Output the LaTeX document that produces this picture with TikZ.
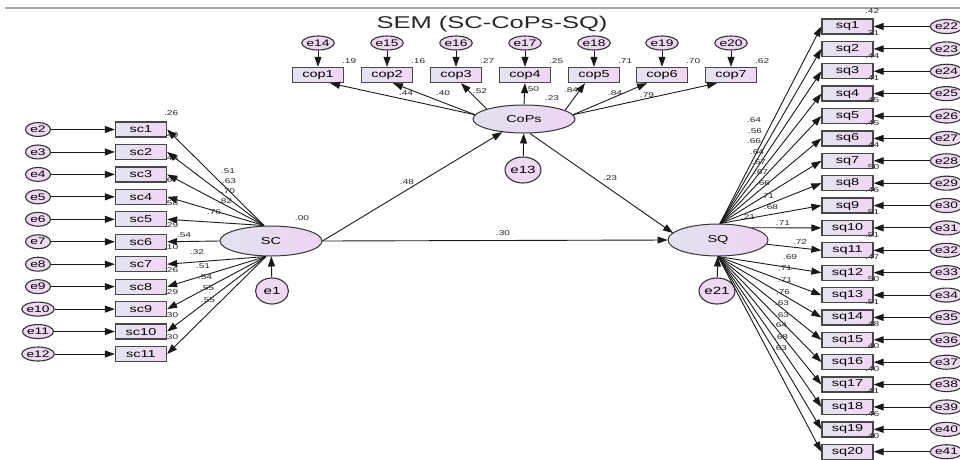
\documentclass[tikz,border=0pt]{standalone}
\usepackage{fontspec}
\setmainfont{Liberation Sans}
\usepackage{graphicx}
\usetikzlibrary{shapes.geometric,arrows.meta,calc}
\definecolor{boxL}{RGB}{228,228,240}
\definecolor{boxR}{RGB}{240,214,244}
\definecolor{errC}{RGB}{238,216,242}
\definecolor{latL}{RGB}{226,226,238}
\definecolor{latR}{RGB}{238,212,244}
\newcommand{\hs}[1]{\scalebox{1.45}[1]{#1}}
\begin{document}
\begin{tikzpicture}[x=1pt,y=-1pt,
 obs/.style={rectangle,draw=black!72,line width=1.3pt,minimum width=51pt,minimum height=15pt,inner sep=0pt,left color=boxL,right color=boxR,font=\fontsize{10}{10}\selectfont},
 lat/.style={ellipse,draw=black!80,line width=1pt,inner sep=0pt,left color=latL,right color=latR,font=\fontsize{10}{10}\selectfont},
 err/.style={ellipse,draw=black!80,line width=1.1pt,minimum width=25pt,minimum height=14pt,inner sep=0pt,fill=errC,font=\fontsize{9.5}{9.5}\selectfont},
 errbig/.style={err,minimum width=33pt,minimum height=26pt,font=\fontsize{10.5}{10.5}\selectfont},
 arr/.style={-{Triangle[length=10pt,width=7pt]},line width=0.9pt,black!90},
 lab/.style={font=\fontsize{7}{7}\selectfont,inner sep=0pt,text=black!85}]
\useasboundingbox (0,0) rectangle (960,459);
\draw[black!35,line width=1.2pt] (5,8) -- (960,8);
\node[font=\fontsize{17}{17}\selectfont,inner sep=0pt,text=black!85] (title) at (492,24) {\scalebox{1.5}[1]{SEM (SC-CoPs-SQ)}};
% latent variables
\node[lat,minimum width=102pt,minimum height=30pt] (SC) at (271,241) {\hs{SC}};
\node[lat,minimum width=102pt,minimum height=28pt] (CoPs) at (524,119) {\hs{CoPs}};
\node[lat,minimum width=100pt,minimum height=32pt] (SQ) at (718,240) {\hs{SQ}};
\node[errbig] (e1) at (272,291) {\hs{e1}};
\node[errbig] (e13) at (523,170) {\hs{e13}};
\node[errbig] (e21) at (717,291) {\hs{e21}};
\draw[arr] (e1) -- (SC);
\draw[arr] (e13) -- (CoPs);
\draw[arr] (e21) -- (SQ);
\node[lab] (rSC) at (302,218) {\hs{.00}};
\node[lab] (rCoPs) at (552,98) {\hs{.23}};
\node[lab] (rSQ) at (748,217) {\hs{.21}};
% structural paths
\draw[arr] (SC.east) -- (CoPs);
\draw[arr] (SC.east) -- (SQ.west);
\draw[arr] ([xshift=6pt]CoPs.south) -- ([shift={(-45,-7)}]SQ.center);
\node[lab] (p1) at (407,182) {\hs{.48}};
\node[lab] (p2) at (503,233) {\hs{.30}};
\node[lab] (p3) at (610,178) {\hs{.23}};
% SC indicators
\foreach \i/\r in {1/.26,2/.40,3/.48,4/.67,5/.58,6/.29,7/.10,8/.26,9/.29,10/.30,11/.30}{
  \pgfmathsetmacro\yy{129.5+22.45*(\i-1)}
  \pgfmathtruncatemacro\ee{\i+1}
  \node[obs] (sc\i) at (141,\yy) {\hs{sc\i}};
  \node[err] (e\ee) at (38,\yy) {\hs{e\ee}};
  \draw[arr] (e\ee) -- (sc\i);
  \node[lab] (rsc\i) at ($(sc\i.north east)+(4,-8.5)$) {\hs{\r}};
}
\foreach \i in {1,...,5} \draw[arr] ([xshift=-7pt]SC.north) -- (sc\i.east);
\draw[arr] (SC.west) -- (sc6.east);
\foreach \i in {7,...,11} \draw[arr] ([xshift=-5pt]SC.south) -- (sc\i.east);
\foreach \x/\y/\t [count=\k] in {228/171/.51,229/181/.63,228/191/.70,225/201/.82,214/212/.76,184/235/.54,197/252/.32,203/266/.51,205/277/.54,207/288/.55,208/300/.55}
  \node[lab] (lsc\k) at (\x,\y) {\hs{\t}};
% CoPs indicators
\foreach \i/\x/\r in {1/318/.19,2/387/.16,3/456/.27,4/525/.25,5/594/.71,6/662/.70,7/731/.62}{
  \pgfmathtruncatemacro\ee{\i+13}
  \node[obs] (cop\i) at (\x,75) {\hs{cop\i}};
  \node[err] (e\ee) at (\x,43) {\hs{e\ee}};
  \draw[arr] (e\ee) -- (cop\i);
  \node[lab] (rcop\i) at ($(cop\i.north east)+(5,-5.5)$) {\hs{\r}};
}
\draw[arr] (CoPs.175) -- ([xshift=12pt]cop1.south);
\draw[arr] (CoPs.175) -- ([xshift=6pt]cop2.south);
\draw[arr] (CoPs.165) -- ([xshift=5pt]cop3.south);
\draw[arr] (CoPs.north) -- (cop4.south);
\draw[arr] (CoPs.12) -- ([xshift=-9pt]cop5.south);
\draw[arr] (CoPs.5) -- ([xshift=-15pt]cop6.south);
\draw[arr] (CoPs.5) -- ([xshift=-14pt]cop7.south);
\foreach \x/\y/\t [count=\k] in {406/93/.44,443/93/.40,480/91/.52,532/89/.50,571/90/.84,615/93/.84,647/95/.79}
  \node[lab] (lcop\k) at (\x,\y) {\hs{\t}};
% SQ indicators
\foreach \i/\r in {1/.42,2/.31,3/.44,4/.41,5/.45,6/.45,7/.44,8/.50,9/.46,10/.51,11/.51,12/.47,13/.50,14/.51,15/.48,16/.40,17/.40,18/.41,19/.46,20/.40}{
  \pgfmathsetmacro\yy{26.5+22.38*(\i-1)}
  \pgfmathtruncatemacro\ee{\i+21}
  \node[obs] (sq\i) at (847.5,\yy) {\hs{sq\i}};
  \node[err,minimum width=26pt] (e\ee) at (946.5,\yy) {\hs{e\ee}};
  \draw[arr] (e\ee) -- (sq\i);
  \node[lab] (rsq\i) at ($(sq\i.north east)+(-1.5,-7.5)$) {\hs{\r}};
}
\foreach \i in {1,...,9} \draw[arr] ([xshift=2pt]SQ.north) -- (sq\i.west);
\draw[arr] (SQ.20) -- (sq10.west);
\draw[arr] (SQ.-5) -- (sq11.west);
\foreach \i in {12,...,20} \draw[arr] (SQ.south) -- (sq\i.west);
\foreach \x/\y/\t [count=\k] in {754/120/.64,755/131/.56,754/141/.66,757/152/.64,759/162/.67,761/172/.67,763/183/.66,767/196/.71,771/207/.68,783/223/.71,800/242/.72,790/257/.69,785/268/.71,785/280/.71,783/292/.76,782/303/.63,782/315/.63,780/325/.64,781/337/.68,780/348/.63}
  \node[lab] (lsq\k) at (\x,\y) {\hs{\t}};
\end{tikzpicture}
\end{document}
